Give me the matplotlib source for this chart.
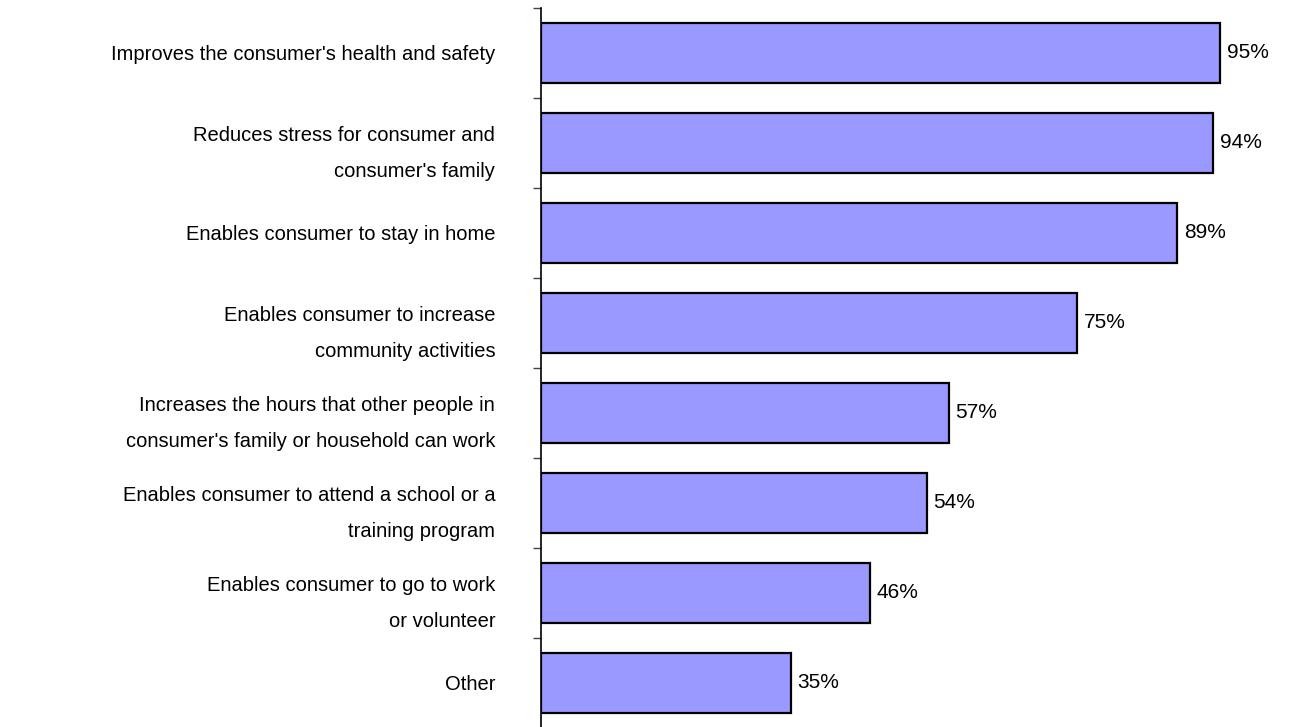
import matplotlib
matplotlib.use("Agg")
import matplotlib.pyplot as plt
import numpy as np

categories = [
    "Improves the consumer's health and safety",
    "Reduces stress for consumer and\nconsumer's family",
    "Enables consumer to stay in home",
    "Enables consumer to increase\ncommunity activities",
    "Increases the hours that other people in\nconsumer's family or household can work",
    "Enables consumer to attend a school or a\ntraining program",
    "Enables consumer to go to work\nor volunteer",
    "Other",
]
values = [95, 94, 89, 75, 57, 54, 46, 35]

plt.rcParams['font.family'] = ['Liberation Sans', 'DejaVu Sans']

W, H = 1295, 727
fig = plt.figure(figsize=(W / 100, H / 100), dpi=100)
ax = fig.add_axes([541 / W, -1 / H, (1256 - 541) / W, (728 - 8) / H])

y = np.arange(len(categories))
ax.barh(y, values, height=0.66, color="#9999FF", edgecolor="black", linewidth=1.6)

ax.set_xlim(0, 100)
ax.set_ylim(len(categories) - 0.5, -0.5)

for yi, v in zip(y, values):
    ax.text(v + 0.9, yi, f"{v}%", va="center", ha="left", fontsize=15)

ax.set_yticks(y)
ax.set_yticklabels(categories, fontsize=14.5, ha="right", linespacing=2.15)
ax.tick_params(axis="y", which="major", length=0, pad=33)
ax.set_yticks(np.arange(-0.5, len(categories) + 0.5, 1), minor=True)
ax.tick_params(axis="y", which="minor", length=6, width=1, color="#444444")

ax.set_xticks([])
for s in ["top", "right", "bottom"]:
    ax.spines[s].set_visible(False)
ax.spines["left"].set_linewidth(1.2)

fig.savefig("out.png", dpi=100)
